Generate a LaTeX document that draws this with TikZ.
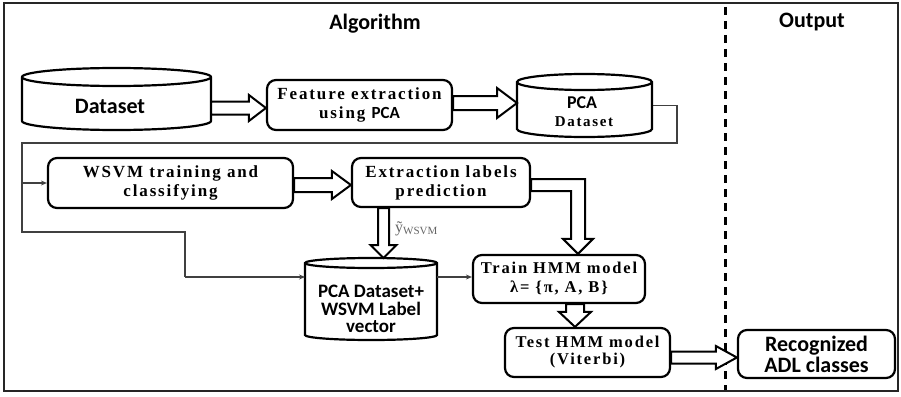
\documentclass[tikz,border=0pt]{standalone}
\usepackage{fontspec}
\setmainfont{Liberation Serif}
\newfontfamily\sa{Carlito}
\newfontfamily\sr[LetterSpace=11]{Liberation Serif}
\usetikzlibrary{arrows.meta,calc}

\tikzset{
  box/.style={draw, line width=2.2pt, rounded corners=9pt, fill=white, inner sep=0pt},
  serif/.style={font=\sr\bfseries\fontsize{17}{19}\selectfont, align=center},
  sans/.style={font=\sa\bfseries\fontsize{22}{21}\selectfont, align=center},
  hollow/.style={draw, line width=2pt, fill=white, line join=miter},
  thinline/.style={draw=black!75, line width=1.3pt},
  thinarrow/.style={thinline, -{Stealth[length=6pt,width=5pt]}},
  cyl/.style={draw, line width=2.2pt, fill=white},
  geo/.style={inner sep=0pt, outer sep=0pt},
}

% horizontal hollow arrow: start, end, y, shaft half width, head half width, head length
\newcommand\hollowH[6]{\draw[hollow] let \p1=(#1), \p2=(#2), \p3=(0,#3) in
  (\x1,\y3+#4pt) -- (\x2-#6pt,\y3+#4pt) -- (\x2-#6pt,\y3+#5pt) -- (\x2,\y3)
  -- (\x2-#6pt,\y3-#5pt) -- (\x2-#6pt,\y3-#4pt) -- (\x1,\y3-#4pt) -- cycle;}
% vertical (downward) hollow arrow: start, end, x, shaft half width, head half width, head length
\newcommand\hollowV[6]{\draw[hollow] let \p1=(#1), \p2=(#2), \p3=(#3,0) in
  (\x3-#4pt,\y1) -- (\x3-#4pt,\y2+#6pt) -- (\x3-#5pt,\y2+#6pt) -- (\x3,\y2)
  -- (\x3+#5pt,\y2+#6pt) -- (\x3+#4pt,\y2+#6pt) -- (\x3+#4pt,\y1) -- cycle;}

\begin{document}
\begin{tikzpicture}[x=1pt,y=-1pt]
\useasboundingbox (0,0) rectangle (901,396);

% frame and separator
\draw[line width=2.5pt, black!85] (4,3) rectangle (898,391);
\draw[line width=3pt, dash pattern=on 8pt off 6pt] (725,7) -- (725,390);

% titles
\node[sans, anchor=base] (talg) at (375,30) {Algorithm};
\node[sans, anchor=base] (tout) at (812,28) {Output};

% thin connector lines (drawn first, under the shapes)
\coordinate (t1) at (677,143);
\coordinate (t2) at (22,143);
\coordinate (t3) at (22,232);
\coordinate (t4) at (185,232);
\coordinate (t5) at (185,277);
\coordinate (t6) at (22,183);

% geometry nodes for cylinders
\node[geo, minimum width=189pt, minimum height=62pt] (ds) at (116.5,99) {};
\node[geo, minimum width=135pt, minimum height=63pt] (pc) at (584.5,105.5) {};
\node[geo, minimum width=132pt, minimum height=82pt] (pw) at (371,299) {};

\draw[thinline] (pc.east) -| (t1) -- (t2) -- (t3) -- (t4) -- (t5);

% cylinders
\draw[cyl] (22,77) -- (22,121) arc[start angle=180,end angle=360,x radius=94.5pt,y radius=9pt]
  -- (211,77) arc[start angle=0,end angle=180,x radius=94.5pt,y radius=9pt] -- cycle;
\draw[cyl] (22,77) arc[start angle=180,end angle=360,x radius=94.5pt,y radius=9pt];
\node[sans] (dst) at (110,106) {Dataset};

\draw[cyl] (517,82) -- (517,129) arc[start angle=180,end angle=360,x radius=67.5pt,y radius=8pt]
  -- (652,82) arc[start angle=0,end angle=180,x radius=67.5pt,y radius=8pt] -- cycle;
\draw[cyl] (517,82) arc[start angle=180,end angle=360,x radius=67.5pt,y radius=8pt];
\node[anchor=base, inner sep=0pt, font=\sa\bfseries\fontsize{18}{20}\selectfont] (pct1) at (582,108) {PCA};
\node[anchor=base, inner sep=0pt, font=\sr\bfseries\fontsize{15}{17}\selectfont] (pct2) at (584,126) {Dataset};

\draw[cyl] (305,263) -- (305,335) arc[start angle=180,end angle=360,x radius=66pt,y radius=5pt]
  -- (437,263) arc[start angle=0,end angle=180,x radius=66pt,y radius=5pt] -- cycle;
\draw[cyl] (305,263) arc[start angle=180,end angle=360,x radius=66pt,y radius=5pt];
\node[font=\sa\bfseries\fontsize{19}{17.5}\selectfont, align=center] (pwt) at (371,309) {PCA Dataset+\\WSVM Label\\vector};

% boxes
\node[box, serif, minimum width=185pt, minimum height=50pt] (fe) at (359.5,105) {Feature extraction\\using {\sa\bfseries PCA}};
\node[box, serif, minimum width=245pt, minimum height=50pt] (ws) at (170.5,183) {WSVM training and\\classifying};
\node[box, serif, minimum width=178pt, minimum height=49pt] (ex) at (441,182.5) {Extraction labels\\prediction};
\node[box, serif, font=\sr\bfseries\fontsize{16.5}{19}\selectfont, minimum width=172pt, minimum height=48pt] (tr) at (559,279) {Train HMM model\\λ= \{π, A, B\}};
\node[box, serif, font=\sr\bfseries\fontsize{16.5}{17}\selectfont, minimum width=165pt, minimum height=49pt] (te) at (587.5,352.5) {Test HMM model\\(Viterbi)};
\node[box, sans, minimum width=157pt, minimum height=48pt] (rc) at (816.5,354) {Recognized\\ADL classes};

% thin arrows into nodes
\draw[thinarrow] (t6) -- (ws.west);
\draw[thinarrow] (t5) -- (t5 -| pw.west);
\draw[thinarrow] (t5 -| pw.east) -- (t5 -| tr.west);

% hollow arrows
\hollowH{ds.east}{fe.west}{108}{6.5}{13}{17}
\hollowH{fe.east}{pc.west}{103}{7}{15}{20}
\hollowH{ws.east}{ex.west}{185}{7}{14}{19}
\hollowH{te.east}{rc.west}{357.5}{6}{11.5}{21}
\hollowV{ex.south}{pw.north}{383.5}{5.5}{13}{13}
\hollowV{tr.south}{te.north}{575}{9}{16}{15}
\draw[hollow] let \p1=(ex.east), \p2=(tr.north), \p3=(578,185) in
  (\x1,\y3+6pt) -- (\x3+7pt,\y3+6pt) -- (\x3+7pt,\y2+15pt) -- (\x3+15pt,\y2+15pt)
  -- (\x3,\y2) -- (\x3-15pt,\y2+15pt) -- (\x3-7pt,\y2+15pt) -- (\x3-7pt,\y3-6pt)
  -- (\x1,\y3-6pt) -- cycle;

% label of the down arrow
\node[anchor=west, inner sep=0pt, text=black!60] (yl) at (395,229)
  {{\fontsize{16}{16}\selectfont ỹ}{\fontsize{11}{11}\selectfont\raisebox{-2pt}{WSVM}}};
\end{tikzpicture}
\end{document}
